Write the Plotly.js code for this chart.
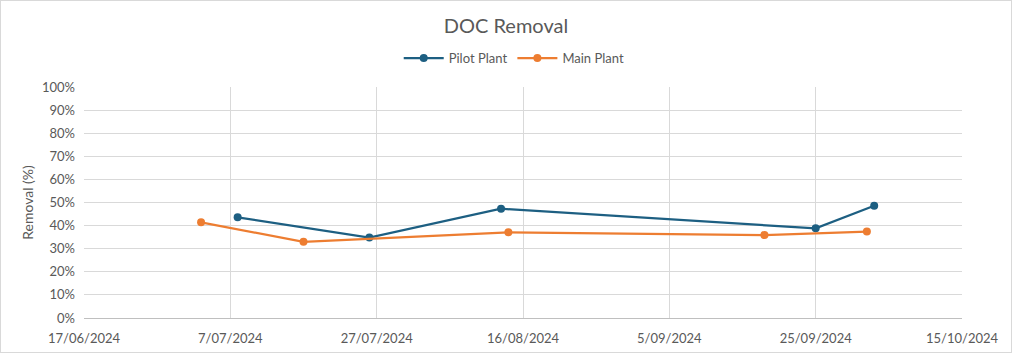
<!DOCTYPE html>
<html>
<head>
<meta charset="utf-8">
<script src="https://cdn.plot.ly/plotly-3.0.1.min.js"></script>
<style>
  html, body { margin: 0; padding: 0; background: #fff; }
  #frame { width: 1012px; height: 353px; box-sizing: border-box; border: 1px solid #d9d9d9; }
  #chart { width: 1010px; height: 351px; }
</style>
</head>
<body>
<div id="frame"><div id="chart"></div></div>
<script>
const pilotDates = ['2024-07-08', '2024-07-26', '2024-08-13', '2024-09-25', '2024-10-03'];
const pilotValues = [0.436, 0.348, 0.473, 0.388, 0.486];
const mainDates = ['2024-07-03', '2024-07-17', '2024-08-14', '2024-09-18', '2024-10-02'];
const mainValues = [0.414, 0.330, 0.371, 0.359, 0.374];
const seriesNames = ['Pilot Plant', 'Main Plant'];
const chartTitle = 'DOC Removal';
const yTitle = 'Removal (%)';

const font = "Lato, 'Open Sans', sans-serif";
const grey = '#595959';

const traces = [
  { x: pilotDates, y: pilotValues, name: seriesNames[0], type: 'scatter', mode: 'lines+markers',
    line: { color: '#1d5f82', width: 2.25 }, marker: { color: '#1d5f82', size: 8 } },
  { x: mainDates, y: mainValues, name: seriesNames[1], type: 'scatter', mode: 'lines+markers',
    line: { color: '#ed7d31', width: 2.25 }, marker: { color: '#ed7d31', size: 8 } }
];

const layout = {
  width: 1010, height: 351,
  margin: { l: 83, r: 49, t: 86, b: 34 },
  paper_bgcolor: '#fff', plot_bgcolor: '#fff',
  font: { family: font, color: grey, size: 13 },
  title: { text: chartTitle, font: { size: 20, color: grey, family: font },
           x: 0.5, xanchor: 'center', y: 0.93, yref: 'container', yanchor: 'middle' },
  showlegend: true,
  legend: { orientation: 'h', x: 0.49, xanchor: 'center', y: 1.125, yanchor: 'middle',
            font: { size: 13, color: grey }, itemwidth: 40 },
  xaxis: {
    type: 'date', range: ['2024-06-17', '2024-10-15'],
    tick0: '2024-06-17', dtick: 20 * 86400000, tickformat: '%-d/%m/%Y',
    showgrid: true, gridcolor: '#d9d9d9', gridwidth: 1,
    showline: true, linecolor: '#bfbfbf', linewidth: 1,
    zeroline: false, ticks: '', ticklabelstandoff: 8,
    tickfont: { size: 13, color: grey }
  },
  yaxis: {
    range: [0, 1], dtick: 0.1, tickformat: '.0%',
    showgrid: true, gridcolor: '#d9d9d9', gridwidth: 1,
    zeroline: false, showline: false, ticks: '', ticklabelstandoff: 8,
    tickfont: { size: 13, color: grey },
    title: { text: yTitle, font: { size: 14, color: grey }, standoff: 5 }
  }
};

Plotly.newPlot('chart', traces, layout, { displayModeBar: false, staticPlot: true });
</script>
</body>
</html>
